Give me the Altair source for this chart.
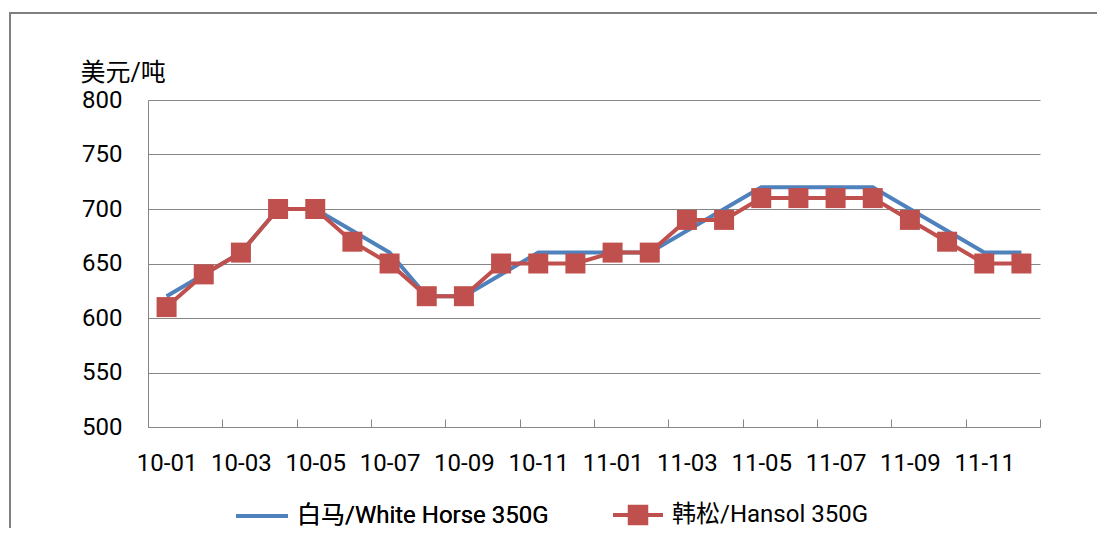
import json
import altair as alt
import pandas as pd

categories = ["10-01", "10-02", "10-03", "10-04", "10-05", "10-06", "10-07", "10-08",
              "10-09", "10-10", "10-11", "10-12", "11-01", "11-02", "11-03", "11-04",
              "11-05", "11-06", "11-07", "11-08", "11-09", "11-10", "11-11", "11-12"]
white_horse = [620, 640, 660, 700, 700, 680, 660, 620, 620, 640, 660, 660,
               660, 660, 680, 700, 720, 720, 720, 720, 700, 680, 660, 660]
hansol = [610, 640, 660, 700, 700, 670, 650, 620, 620, 650, 650, 650,
          660, 660, 690, 690, 710, 710, 710, 710, 690, 670, 650, 650]
series_names = ["白马/White Horse 350G", "韩松/Hansol 350G"]
colors = ["#4F81BD", "#C0504D"]
y_ticks = [500, 550, 600, 650, 700, 750, 800]
y_title = "美元/吨"

rows = []
for i, c in enumerate(categories):
    rows.append({"idx": i, "cat": c, "series": series_names[0], "value": white_horse[i]})
    rows.append({"idx": i, "cat": c, "series": series_names[1], "value": hansol[i]})
df = pd.DataFrame(rows)

n = len(categories)
W, H = 892, 327
band = W / n
tick_vals = [i - 0.5 for i in range(0, n + 1, 2)]
label_expr = f"({json.dumps(categories)})[datum.value + 0.5] || ''"

FONT = "Roboto, 'Noto Sans CJK SC', sans-serif"
GRAY = "#868686"

x_enc = alt.X(
    "idx:Q",
    scale=alt.Scale(domain=[-0.5, n - 0.5], nice=False, zero=False),
    axis=alt.Axis(
        values=tick_vals, labelExpr=label_expr, labelOffset=band / 2,
        offset=-8, tickSize=8, tickColor=GRAY, ticks=True, domain=False, grid=False,
        labelFontSize=24, labelColor="#000000", labelPadding=36, labelBaseline="middle",
        labelFlush=False, labelOverlap=False, title=None,
    ),
)
y_enc = alt.Y(
    "value:Q",
    scale=alt.Scale(domain=[500, 800], nice=False, zero=False),
    axis=alt.Axis(
        values=y_ticks, domain=True, domainColor=GRAY, ticks=False, grid=True,
        gridColor=GRAY, labelFontSize=24, labelColor="#000000", labelPadding=26,
        title=y_title, titleAngle=0, titleAlign="left", titleBaseline="middle",
        titleX=-68, titleY=-28, titleFontSize=25, titleFontWeight="normal",
        titleColor="#000000",
    ),
)

stroke_enc = alt.Stroke(
    "series:N",
    scale=alt.Scale(domain=series_names, range=colors),
    legend=alt.Legend(
        title=None, orient="none", direction="horizontal", legendX=86, legendY=388,
        values=[series_names[0]], labelFontSize=24, labelColor="#000000", labelOffset=7,
        labelLimit=0, symbolType="M-1,0H1", symbolSize=2704, symbolStrokeWidth=4, padding=0,
    ),
)
fill_enc = alt.Fill(
    "series:N",
    scale=alt.Scale(domain=[series_names[1]], range=[colors[1]]),
    legend=alt.Legend(
        title=None, orient="none", direction="horizontal", legendX=463, legendY=388,
        labelFontSize=24, labelColor="#000000", labelOffset=7, labelLimit=0,
        symbolType="M-1,0H1M-0.33,-0.33H0.33V0.33H-0.33Z", symbolSize=2500,
        symbolStrokeColor=colors[1], symbolStrokeWidth=4, symbolOpacity=1, padding=0,
    ),
)

base = alt.Chart(df)
blue_line = base.transform_filter(alt.datum.series == series_names[0]).mark_line(
    strokeWidth=4).encode(x=x_enc, y=y_enc, stroke=stroke_enc)
red_line = base.transform_filter(alt.datum.series == series_names[1]).mark_line(
    strokeWidth=4).encode(x=x_enc, y=y_enc, stroke=stroke_enc)
red_pts = base.transform_filter(alt.datum.series == series_names[1]).mark_point(
    shape="square", filled=True, size=400, opacity=1).encode(x=x_enc, y=y_enc, fill=fill_enc)

frame = alt.Chart(pd.DataFrame({"a": [0]})).mark_rect(
    fill=None, stroke="#7F7F7F", strokeWidth=2).encode(
    x=alt.value(-138), x2=alt.value(1200), y=alt.value(-87), y2=alt.value(700))

chart = alt.layer(frame, blue_line, red_line, red_pts).resolve_scale(
    stroke="independent", fill="independent").properties(
    width=W, height=H,
    autosize=alt.AutoSizeParams(type="none"),
    padding={"left": 140, "top": 92, "right": 57, "bottom": 101},
).configure(font=FONT).configure_view(stroke=None)

chart.save("out.html", embed_options={"renderer": "svg", "actions": False})
